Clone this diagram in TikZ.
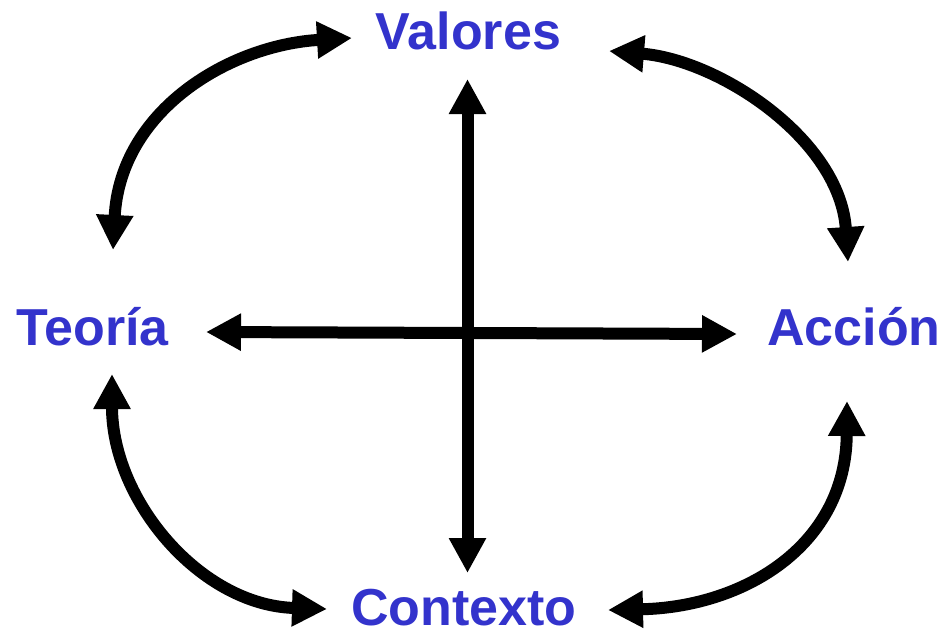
\documentclass[tikz,border=0pt]{standalone}
\usepackage{fontspec}
\setmainfont{Liberation Sans}
\usetikzlibrary{arrows.meta}
\definecolor{lblue}{RGB}{51,51,204}
\tikzset{
  lbl/.style={inner sep=0pt, anchor=base, text=lblue, font=\fontsize{52}{60}\selectfont\bfseries},
  arr/.style={line width=12pt, {Triangle[length=35pt,width=35pt]}-{Triangle[length=35pt,width=35pt]}}
}
\begin{document}
\begin{tikzpicture}[x=1pt,y=-1pt]
\useasboundingbox (0,0) rectangle (947,634);
\node[lbl] (val) at (468.5,50) {Valores};
\node[lbl] (teo) at (92.5,345) {Teoría};
\node[lbl] (acc) at (854,345) {Acción};
\node[lbl] (con) at (464,625) {Contexto};
% arrow end points
\coordinate (vt) at (467.5,79);
\coordinate (vb) at (467.5,573);
\coordinate (hl) at (206,332);
\coordinate (hr) at (737,334);
\coordinate (tlA) at (113,250);
\coordinate (tlB) at (352,38);
\coordinate (trA) at (609,51);
\coordinate (trB) at (848,262);
\coordinate (blA) at (112,374);
\coordinate (blB) at (327,609);
\coordinate (brA) at (847,401);
\coordinate (brB) at (608,610);
\draw[arr] (vt) -- (vb);
\draw[arr] (hl) -- (hr);
\draw[arr] (tlA) .. controls (120,110) and (230,45) .. (tlB);
\draw[arr] (trA) .. controls (720,60) and (840,140) .. (trB);
\draw[arr] (blA) .. controls (112,500) and (200,605) .. (blB);
\draw[arr] (brA) .. controls (846,545) and (745,607) .. (brB);
\end{tikzpicture}
\end{document}
